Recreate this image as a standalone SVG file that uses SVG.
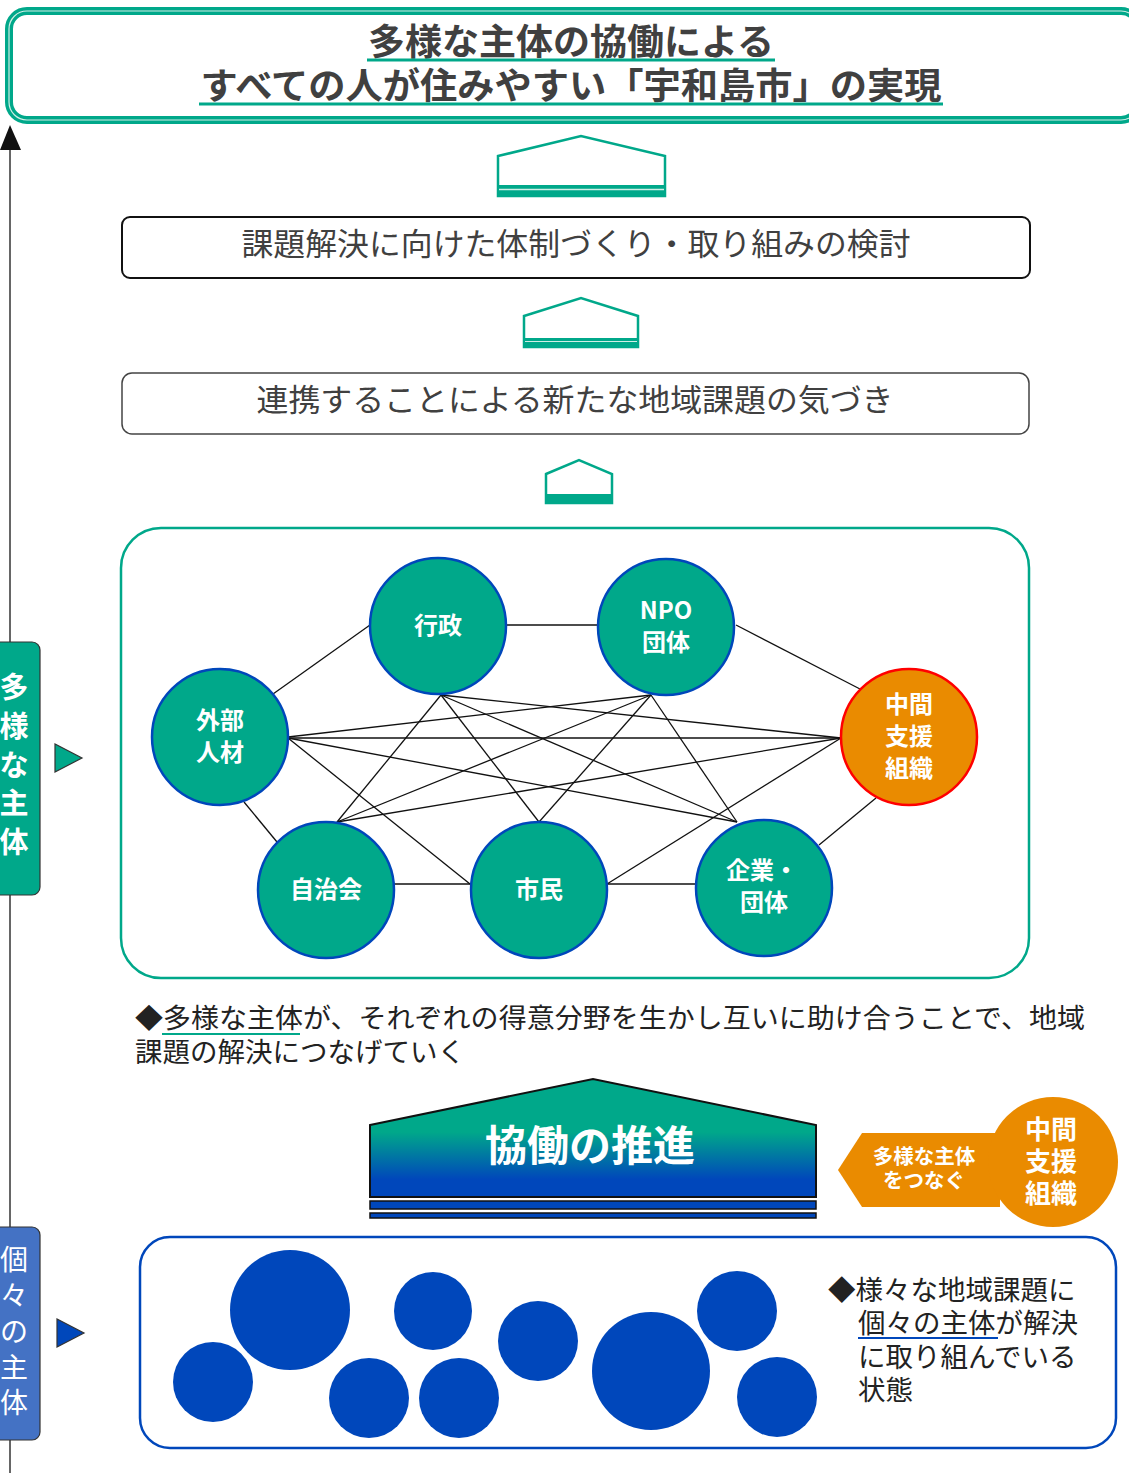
<svg xmlns="http://www.w3.org/2000/svg" width="1129" height="1473" viewBox="0 0 1129 1473">
<defs>
<style>
.jp{font-family:"Noto Sans CJK JP","Noto Sans",sans-serif}
.title{font-size:36px;font-weight:bold;fill:#404040;text-anchor:middle}
.box{font-size:31px;fill:#404040;text-anchor:middle}
.node{fill:#00A88A;stroke:#0047BB;stroke-width:2.5}
.nodeO{fill:#EA8B00;stroke:#FF0000;stroke-width:2.5}
.nt{font-size:24px;font-weight:bold;fill:#fff;text-anchor:middle}
.edge{stroke:#111;stroke-width:1.3;fill:none}
.house{fill:#fff;stroke:#00A88A;stroke-width:2.5}
.para{font-size:27px;fill:#222}
.blob{fill:#0047BB}
</style>
<linearGradient id="grad" x1="0" y1="0" x2="0" y2="1">
<stop offset="0.45" stop-color="#00A88A"/>
<stop offset="0.85" stop-color="#0047BB"/>
</linearGradient>
</defs>
<rect width="1129" height="1473" fill="#fff"/>

<!-- vertical axis -->
<g id="axis">
<line x1="10" y1="145" x2="10" y2="1473" stroke="#333" stroke-width="1.5"/>
<polygon points="0,150 10,125 21,150" fill="#111"/>
</g>

<!-- title -->
<g id="title">
<rect x="9" y="11" width="1130" height="109" rx="18" fill="#fff" stroke="#00A88A" stroke-width="8"/>
<rect x="9" y="11" width="1130" height="109" rx="18" fill="none" stroke="#cfeee6" stroke-width="1.2"/>
<text class="jp title" x="571" y="55" textLength="406" lengthAdjust="spacingAndGlyphs">多様な主体の協働による</text>
<line x1="367" y1="60" x2="775" y2="60" stroke="#00A88A" stroke-width="3"/>
<text class="jp title" x="571" y="99" textLength="741" lengthAdjust="spacingAndGlyphs">すべての人が住みやすい「宇和島市」の実現</text>
<line x1="199" y1="104" x2="943" y2="104" stroke="#00A88A" stroke-width="3"/>
</g>

<!-- houses -->
<g id="house1">
<polygon class="house" points="498,156 581,136 665,156 665,196 498,196"/>
<rect x="498" y="185" width="167" height="11" fill="#00A88A"/>
<line x1="499" y1="189.5" x2="664" y2="189.5" stroke="#cfeee6" stroke-width="1.5"/>
</g>
<g id="box1">
<rect x="122" y="217" width="908" height="61" rx="8" fill="#fff" stroke="#111" stroke-width="2"/>
<text class="jp box" x="576" y="255" textLength="669" lengthAdjust="spacingAndGlyphs">課題解決に向けた体制づくり・取り組みの検討</text>
</g>
<g id="house2">
<polygon class="house" points="524,316 581,298 638,316 638,347 524,347"/>
<rect x="524" y="338" width="114" height="9" fill="#00A88A"/>
<line x1="525" y1="341.5" x2="637" y2="341.5" stroke="#cfeee6" stroke-width="1.2"/>
</g>
<g id="box2">
<rect x="122" y="373" width="907" height="61" rx="10" fill="#fff" stroke="#444" stroke-width="1.5"/>
<text class="jp box" x="575" y="411" textLength="637" lengthAdjust="spacingAndGlyphs">連携することによる新たな地域課題の気づき</text>
</g>
<g id="house3">
<polygon class="house" points="546,474 579,460 612,474 612,503 546,503"/>
<rect x="546" y="494" width="66" height="9" fill="#00A88A"/>
</g>

<!-- network frame -->
<g id="network-frame">
<rect x="121" y="528" width="908" height="450" rx="40" fill="#fff" stroke="#00A88A" stroke-width="2.5"/>
</g>

<!-- connectors -->
<g id="connectors" class="edge">
<line x1="273" y1="694" x2="370" y2="625"/>
<line x1="507" y1="625" x2="598" y2="625"/>
<line x1="736" y1="625" x2="860" y2="689"/>
<line x1="244" y1="802" x2="277" y2="842"/>
<line x1="394" y1="884" x2="470" y2="884"/>
<line x1="607" y1="884" x2="695" y2="884"/>
<line x1="819" y1="845" x2="876" y2="798"/>
<line x1="441" y1="695" x2="337" y2="822"/>
<line x1="441" y1="695" x2="539" y2="822"/>
<line x1="441" y1="695" x2="737" y2="822"/>
<line x1="441" y1="695" x2="841" y2="738"/>
<line x1="651" y1="695" x2="288" y2="737"/>
<line x1="651" y1="695" x2="337" y2="822"/>
<line x1="651" y1="695" x2="539" y2="822"/>
<line x1="651" y1="695" x2="737" y2="822"/>
<line x1="288" y1="738" x2="841" y2="738"/>
<line x1="288" y1="738" x2="470" y2="884"/>
<line x1="288" y1="738" x2="737" y2="822"/>
<line x1="841" y1="738" x2="337" y2="822"/>
<line x1="841" y1="738" x2="607" y2="884"/>
</g>

<!-- nodes -->
<g id="node-gyosei"><circle class="node" cx="438" cy="626" r="68"/><text class="jp nt" x="438" y="634">行政</text></g>
<g id="node-npo"><circle class="node" cx="666" cy="627" r="68"/><text class="jp nt" x="666" y="619">NPO</text><text class="jp nt" x="666" y="651">団体</text></g>
<g id="node-gaibu"><circle class="node" cx="220" cy="737" r="68"/><text class="jp nt" x="220" y="729">外部</text><text class="jp nt" x="220" y="761">人材</text></g>
<g id="node-chukan"><circle class="nodeO" cx="909" cy="737" r="68"/><text class="jp nt" x="909" y="713">中間</text><text class="jp nt" x="909" y="745">支援</text><text class="jp nt" x="909" y="777">組織</text></g>
<g id="node-jichikai"><circle class="node" cx="326" cy="890" r="68"/><text class="jp nt" x="326" y="898">自治会</text></g>
<g id="node-shimin"><circle class="node" cx="539" cy="890" r="68"/><text class="jp nt" x="539" y="898">市民</text></g>
<g id="node-kigyo"><circle class="node" cx="764" cy="888" r="68"/><text class="jp nt" x="762" y="879">企業・</text><text class="jp nt" x="764" y="911">団体</text></g>

<!-- left labels -->
<g id="label-tayo">
<rect x="-10" y="642" width="50" height="253" rx="8" fill="#00A88A" stroke="#333" stroke-width="1.2"/>
<g class="jp" font-size="29" font-weight="bold" fill="#fff" text-anchor="middle">
<text x="14" y="698">多</text><text x="14" y="737">様</text><text x="14" y="776">な</text><text x="14" y="814">主</text><text x="14" y="853">体</text>
</g>
<polygon points="55,744 55,772 82,758" fill="#00A88A" stroke="#333" stroke-width="1.2"/>
</g>
<g id="label-koko">
<rect x="-10" y="1227" width="50" height="213" rx="8" fill="#4472C4" stroke="#333" stroke-width="1.2"/>
<g class="jp" font-size="28" fill="#fff" text-anchor="middle">
<text x="14" y="1270">個</text><text x="14" y="1306">々</text><text x="14" y="1342">の</text><text x="14" y="1378">主</text><text x="14" y="1413">体</text>
</g>
<polygon points="57,1319 57,1347 84,1333" fill="#0047BB" stroke="#333" stroke-width="1.2"/>
</g>

<!-- paragraph -->
<g id="paragraph">
<text class="jp para" x="135" y="1028" textLength="950" lengthAdjust="spacingAndGlyphs">◆多様な主体が、それぞれの得意分野を生かし互いに助け合うことで、地域</text>
<line x1="162" y1="1034" x2="300" y2="1034" stroke="#00A88A" stroke-width="2"/>
<text class="jp para" x="135" y="1062" textLength="330" lengthAdjust="spacingAndGlyphs">課題の解決につなげていく</text>
</g>

<!-- kyodo house -->
<g id="kyodo">
<polygon points="370,1125 593,1079 816,1125 816,1197 370,1197" fill="url(#grad)" stroke="#111" stroke-width="2"/>
<text class="jp" x="590" y="1161" font-size="42" font-weight="bold" fill="#fff" text-anchor="middle">協働の推進</text>
<rect x="370" y="1201" width="446" height="8" fill="#0047BB" stroke="#111" stroke-width="1.5"/>
<rect x="370" y="1213" width="446" height="5" fill="#0047BB" stroke="#111" stroke-width="1.5"/>
</g>

<!-- chukan support -->
<g id="chukan-support">
<polygon points="838,1170 862,1133 1000,1133 1000,1207 862,1207" fill="#EA8B00"/>
<circle cx="1053" cy="1162" r="65" fill="#EA8B00"/>
<g class="jp" font-weight="bold" fill="#fff" text-anchor="middle">
<text x="924" y="1164" font-size="20.5">多様な主体</text>
<text x="924" y="1188" font-size="20.5">をつなぐ</text>
<text x="1051" y="1139" font-size="26">中間</text>
<text x="1051" y="1171" font-size="26">支援</text>
<text x="1051" y="1203" font-size="26">組織</text>
</g>
</g>

<!-- individual actors -->
<g id="individual">
<rect x="140" y="1237" width="976" height="211" rx="30" fill="#fff" stroke="#0047BB" stroke-width="2.5"/>
<circle class="blob" cx="290" cy="1310" r="60"/>
<circle class="blob" cx="213" cy="1382" r="40"/>
<circle class="blob" cx="433" cy="1311" r="39"/>
<circle class="blob" cx="369" cy="1398" r="40"/>
<circle class="blob" cx="459" cy="1398" r="40"/>
<circle class="blob" cx="538" cy="1341" r="40"/>
<circle class="blob" cx="651" cy="1371" r="59"/>
<circle class="blob" cx="737" cy="1311" r="40"/>
<circle class="blob" cx="777" cy="1397" r="40"/>
<g class="jp" font-size="27.5" fill="#222">
<text x="828" y="1300">◆様々な地域課題に</text>
<text x="858" y="1333">個々の主体が解決</text>
<text x="858" y="1367">に取り組んでいる</text>
<text x="858" y="1400">状態</text>
</g>
<line x1="858" y1="1338" x2="998" y2="1338" stroke="#0047BB" stroke-width="2"/>
</g>
</svg>
